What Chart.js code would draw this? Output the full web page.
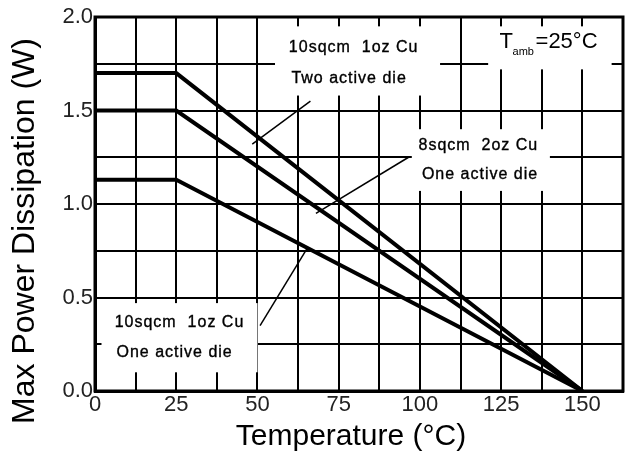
<!DOCTYPE html>
<html>
<head>
<meta charset="utf-8">
<script src="https://cdn.jsdelivr.net/npm/chart.js@4"></script>
<style>
  body { margin: 0; background: #fff; }
  #wrap { width: 627px; height: 460px; }
</style>
</head>
<body>
<div id="wrap"><canvas id="chart"></canvas></div>
<script>
'use strict';

// temperature points (°C) for each derating curve
const temps = [0, 25, 150];
// max power (W)
const twoDie10sqcm = [1.7, 1.7, 0];
const oneDie8sqcm = [1.5, 1.5, 0];
const oneDie10sqcm = [1.13, 1.13, 0];

const xLabels = [0, 25, 50, 75, 100, 125, 150];
const yLabels = [0.0, 0.5, 1.0, 1.5, 2.0];

// annotation boxes, in data units: [xMin, xMax, yMin, yMax]
const boxes = [
    [55.4, 106.2, 1.58, 1.95],
    [121, 159, 1.72, 1.95],
    [97.5, 140, 1.07, 1.4],
    [2, 50, 0.1, 0.47]
];

// text lines: [text, xCenter, y]
const notes = [
    ["10sqcm  1oz Cu", 79.6, 1.835],
    ["Two active die", 78.2, 1.672],
    ["8sqcm  2oz Cu", 118, 1.31],
    ["One active die", 118.5, 1.155],
    ["10sqcm  1oz Cu", 26, 0.365],
    ["One active die", 24.5, 0.205]
];

// leader lines: [x1, y1, x2, y2]
const leaders = [
    [66.3, 1.55, 48.4, 1.32],
    [96.5, 1.25, 68, 0.95],
    [50.8, 0.35, 65.2, 0.76]
];

const FONT = '"Liberation Sans", Arial, sans-serif';

function makeSet(label, values) {
    return {
        label: label,
        data: temps.map((t, i) => ({ x: t, y: values[i] })),
        borderColor: '#000',
        borderWidth: 4,
        pointRadius: 0,
        tension: 0,
        fill: false
    };
}

const annotations = {
    id: 'annotations',
    beforeDatasetsDraw(chart) {
        const ctx = chart.ctx;
        const xs = chart.scales.x;
        const ys = chart.scales.y;
        ctx.save();
        ctx.fillStyle = '#fff';
        boxes.forEach(b => {
            const x1 = xs.getPixelForValue(b[0]);
            const x2 = xs.getPixelForValue(b[1]);
            const y1 = ys.getPixelForValue(b[3]);
            const y2 = ys.getPixelForValue(b[2]);
            ctx.fillRect(x1, y1, x2 - x1, y2 - y1);
        });
        ctx.fillStyle = '#000';
        ctx.strokeStyle = '#000';
        ctx.lineWidth = 0.35;
        ctx.font = '16px ' + FONT;
        ctx.letterSpacing = '1px';
        ctx.textAlign = 'center';
        ctx.textBaseline = 'middle';
        notes.forEach(n => {
            const px = xs.getPixelForValue(n[1]);
            const py = ys.getPixelForValue(n[2]);
            ctx.fillText(n[0], px, py);
            ctx.strokeText(n[0], px, py);
        });
        ctx.letterSpacing = '0px';

        // T_amb = 25°C
        const tx = xs.getPixelForValue(124.5);
        const ty = ys.getPixelForValue(1.865);
        ctx.textAlign = 'left';
        ctx.font = '22px ' + FONT;
        ctx.fillText('T', tx, ty);
        ctx.font = '11px ' + FONT;
        ctx.fillText('amb', tx + 13, ty + 10);
        ctx.font = '22px ' + FONT;
        ctx.fillText('=25°C', tx + 36, ty);
        ctx.restore();
    },
    afterDatasetsDraw(chart) {
        const ctx = chart.ctx;
        const xs = chart.scales.x;
        const ys = chart.scales.y;
        const a = chart.chartArea;
        ctx.save();
        ctx.strokeStyle = '#000';
        ctx.lineWidth = 1.5;
        leaders.forEach(l => {
            ctx.beginPath();
            ctx.moveTo(xs.getPixelForValue(l[0]), ys.getPixelForValue(l[1]));
            ctx.lineTo(xs.getPixelForValue(l[2]), ys.getPixelForValue(l[3]));
            ctx.stroke();
        });
        // heavy frame
        ctx.lineWidth = 3;
        ctx.strokeRect(a.left, a.top, a.right - a.left, a.bottom - a.top);

        // axis titles
        ctx.fillStyle = '#000';
        ctx.textAlign = 'center';
        ctx.textBaseline = 'middle';
        ctx.font = '30px ' + FONT;
        ctx.fillText('Temperature (°C)', 351, 437);
        ctx.translate(25, 231);
        ctx.rotate(-Math.PI / 2);
        ctx.font = '32px ' + FONT;
        ctx.fillText('Max Power Dissipation (W)', 0, 0);
        ctx.restore();
    }
};

new Chart(document.getElementById('chart'), {
    type: 'line',
    data: {
        datasets: [
            makeSet('10sqcm 1oz Cu, Two active die', twoDie10sqcm),
            makeSet('8sqcm 2oz Cu, One active die', oneDie8sqcm),
            makeSet('10sqcm 1oz Cu, One active die', oneDie10sqcm)
        ]
    },
    options: {
        responsive: true,
        maintainAspectRatio: false,
        animation: false,
        layout: { padding: { top: 17, right: 4, left: 0, bottom: 0 } },
        plugins: {
            legend: { display: false },
            tooltip: { enabled: false }
        },
        scales: {
            x: {
                type: 'linear',
                min: 0,
                max: 162.5,
                afterFit(scale) { scale.height = 69; },
                grid: { color: '#000', lineWidth: 2, drawTicks: false },
                border: { color: '#000', width: 3 },
                ticks: {
                    stepSize: 12.5,
                    autoSkip: false,
                    maxRotation: 0,
                    padding: 1,
                    color: '#222',
                    font: { family: FONT, size: 22 },
                    callback: v => xLabels.includes(v) ? String(v) : ''
                }
            },
            y: {
                min: 0,
                max: 2,
                afterFit(scale) { scale.width = 95; },
                grid: { color: '#000', lineWidth: 2, drawTicks: false },
                border: { color: '#000', width: 3 },
                ticks: {
                    stepSize: 0.25,
                    autoSkip: false,
                    padding: 2,
                    color: '#222',
                    font: { family: FONT, size: 22 },
                    callback: v => yLabels.some(l => Math.abs(l - v) < 1e-6) ? v.toFixed(1) : ''
                }
            }
        }
    },
    plugins: [annotations]
});
</script>
</body>
</html>
